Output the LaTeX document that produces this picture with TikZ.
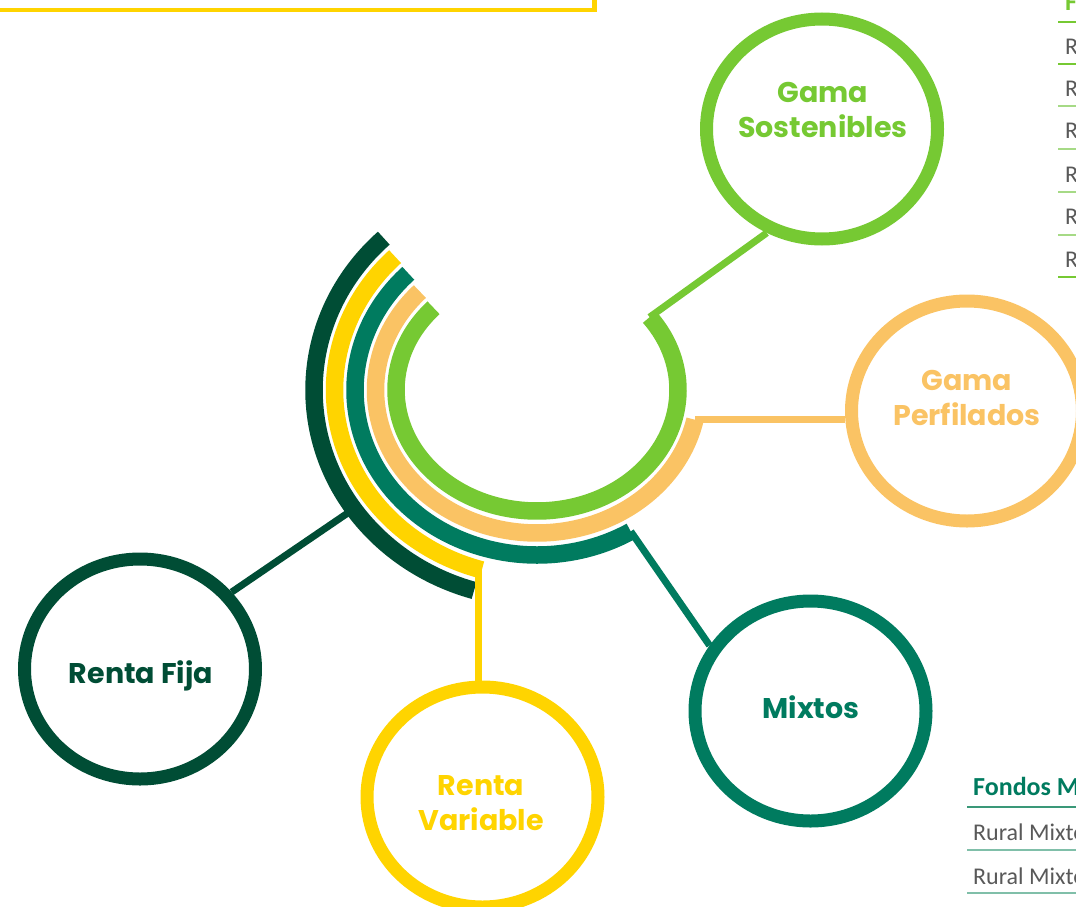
\documentclass[tikz,border=0pt]{standalone}
\usepackage{fontspec}
\newfontfamily\labfont{Poppins}
\newfontfamily\tabfont{Carlito}
\usetikzlibrary{shapes.geometric,calc}
\definecolor{dkgreen}{HTML}{004D35}
\definecolor{yellowc}{HTML}{FFD400}
\definecolor{tealc}{HTML}{007B5F}
\definecolor{orangec}{HTML}{FAC364}
\definecolor{limec}{HTML}{76C933}
\definecolor{graytxt}{HTML}{595959}
\definecolor{tealrule}{HTML}{3A9878}
\definecolor{tealrulelt}{HTML}{80BFA9}
\definecolor{limerulelt}{HTML}{A6DA86}
\begin{document}
\begin{tikzpicture}[x=1pt,y=-1pt,
  band/.style={line width=17.5pt, line cap=butt},
  conn/.style={line width=7pt},
  ring/.style={ellipse, draw, line width=13pt, minimum width=231pt, minimum height=220pt, inner sep=0pt},
  lbl/.style={font=\labfont\bfseries\fontsize{28.5}{35}\selectfont, align=center},
  tabtxt/.style={font=\tabfont\fontsize{24}{28}\selectfont, text=graytxt, anchor=base west, inner sep=0pt},
  tabhead/.style={font=\tabfont\bfseries\fontsize{26}{30}\selectfont, anchor=base west, inner sep=0pt},
  rule/.style={line width=2pt}]
\useasboundingbox (0,0) rectangle (1076,907);
\clip (0,0) rectangle (1076,907);
% partial box top-left
\draw[yellowc, line width=4.5pt] (-10,-20) rectangle (594.5,10);
% centre of arcs
\coordinate (o) at (537,390);
% arcs
\draw[band, dkgreen] ($(o)+(226.6:223 and 209)$) arc[start angle=226.6, end angle=106.4, x radius=223, y radius=209];
\draw[band, yellowc] ($(o)+(225.5:202.5 and 187)$) arc[start angle=225.5, end angle=105.8, x radius=202.5, y radius=187];
\draw[band, tealc] ($(o)+(225:182 and 165)$) arc[start angle=225, end angle=59, x radius=182, y radius=165];
\draw[band, orangec] ($(o)+(223.5:161.5 and 143)$) arc[start angle=223.5, end angle=12, x radius=161.5, y radius=143];
\draw[band, limec] ($(o)+(222.8:141 and 121)$) arc[start angle=222.8, end angle=-37, x radius=141, y radius=121];
% connector start points
\coordinate (limeend) at ($(o)+(-37:141 and 121)$);
\coordinate (orgend) at ($(o)+(12:161.5 and 143)$);
\coordinate (tealend) at ($(o)+(59:182 and 165)$);
\coordinate (yelend) at ($(o)+(106.8:202.5 and 187)$);
\coordinate (dkpt) at ($(o)+(145.3:223 and 209)$);
% rings
\node[ring, draw=limec] (gs) at (822,129) {};
\node[ring, draw=orangec] (gp) at (967,411) {};
\node[ring, draw=tealc] (mx) at (810.5,711) {};
\node[ring, draw=dkgreen] (rf) at (140,669) {};
\node[ring, draw=yellowc] (rv) at (482.5,797) {};
% labels
\node[lbl, text=limec] (gst) at (823,110) {Gama\\Sostenibles};
\node[lbl, text=orangec] (gpt) at (967,398) {Gama\\Perfilados};
\node[lbl, text=tealc] (mxt) at (811,707) {Mixtos};
\node[lbl, text=dkgreen] (rft) at (141,676) {Renta Fija};
\node[lbl, text=yellowc] (rvt) at (481,803) {Renta\\Variable};
% connectors
\draw[conn, limec] (limeend) -- (gs.242);
\draw[conn, orangec] (orgend) -- (orgend -| gp.west);
\draw[conn, tealc] (tealend) -- (mx.147);
\draw[conn, yellowc] (yelend) -- (yelend |- rv.north);
\draw[conn, dkgreen] (dkpt) -- (rf.40);
% top-right partial table
\node[tabhead, text=limec] (th) at (1065,11) {F};
\draw[rule, limec] (1058,22) -- ++(30,0);
\node[tabtxt] (t1) at (1065,55) {R};
\draw[rule, limec] (1058,64) -- ++(30,0);
\node[tabtxt] (t2) at (1065,96) {R};
\draw[rule, limerulelt] (1058,106) -- ++(30,0);
\node[tabtxt] (t3) at (1065,138) {R};
\draw[rule, limerulelt] (1058,149) -- ++(30,0);
\node[tabtxt] (t4) at (1065,182) {R};
\draw[rule, limerulelt] (1058,192) -- ++(30,0);
\node[tabtxt] (t5) at (1065,224) {R};
\draw[rule, limerulelt] (1058,235) -- ++(30,0);
\node[tabtxt] (t6) at (1065,267) {R};
\draw[rule, limec] (1058,277) -- ++(30,0);
% bottom-right partial table
\node[tabhead, text=tealc] (bh) at (973,795) {Fondos M};
\draw[rule, tealrule] (967,806.5) -- ++(120,0);
\node[tabtxt] (b1) at (973,840) {Rural Mixto};
\draw[rule, tealrulelt] (967,849.5) -- ++(120,0);
\node[tabtxt] (b2) at (973,884) {Rural Mixto};
\draw[rule, tealrulelt] (967,893) -- ++(120,0);
\end{tikzpicture}
\end{document}
